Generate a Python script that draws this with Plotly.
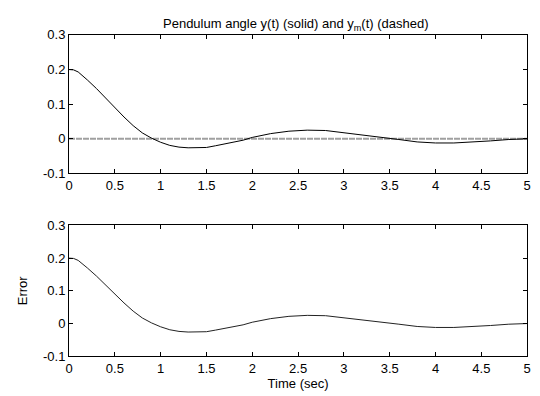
import plotly.graph_objects as go

t = [0, 0.05, 0.1, 0.15, 0.2, 0.3, 0.4, 0.5, 0.6, 0.7, 0.8, 0.9, 1.0, 1.1, 1.2, 1.3,
     1.4, 1.5, 1.6, 1.7, 1.8, 1.9, 2.0, 2.2, 2.4, 2.6, 2.8, 3.0, 3.2, 3.4, 3.6, 3.8,
     4.0, 4.2, 4.4, 4.6, 4.8, 5.0]
y = [0.2, 0.199, 0.193, 0.182, 0.170, 0.145, 0.117, 0.089, 0.063, 0.038, 0.017, 0.002,
     -0.01, -0.019, -0.024, -0.026, -0.026, -0.025, -0.02, -0.015, -0.01, -0.004, 0.004,
     0.015, 0.022, 0.025, 0.024, 0.018, 0.012, 0.006, -0.002, -0.009, -0.012, -0.012,
     -0.01, -0.006, -0.002, 0.0]
ym = [0.0] * len(t)
err = [a - b for a, b in zip(y, ym)]

x_ticks = [0, 0.5, 1, 1.5, 2, 2.5, 3, 3.5, 4, 4.5, 5]
x_tick_text = ["0", "0.5", "1", "1.5", "2", "2.5", "3", "3.5", "4", "4.5", "5"]
y_ticks = [-0.1, 0, 0.1, 0.2, 0.3]
y_tick_text = ["-0.1", "0", "0.1", "0.2", "0.3"]

W, H = 540, 396
FONT = "Liberation Sans, Arial, sans-serif"
FS = 13

fig = go.Figure()
fig.add_trace(go.Scatter(x=t, y=ym, mode="lines", line=dict(color="#a0a0a0", width=2, dash="6px,1px"),
                         xaxis="x", yaxis="y", showlegend=False))
fig.add_trace(go.Scatter(x=t, y=y, mode="lines", line=dict(color="black", width=1),
                         xaxis="x", yaxis="y", showlegend=False))
fig.add_trace(go.Scatter(x=t, y=err, mode="lines", line=dict(color="#222222", width=1),
                         xaxis="x2", yaxis="y2", showlegend=False))

xdom = [66 / W, 531 / W]
axis_common = dict(showline=True, linecolor="black", linewidth=1, mirror="ticks",
                   ticks="inside", ticklen=4, tickcolor="black", showgrid=False,
                   zeroline=False, tickfont=dict(family=FONT, size=FS, color="black"))

fig.update_layout(
    width=W, height=H, margin=dict(l=0, r=0, t=0, b=0),
    plot_bgcolor="white", paper_bgcolor="white",
    xaxis=dict(domain=xdom, range=[0, 5], tickvals=x_ticks, ticktext=x_tick_text,
               anchor="y", **axis_common),
    yaxis=dict(domain=[1 - 173 / H, 1 - 29 / H], range=[-0.1, 0.3], tickvals=y_ticks,
               ticktext=y_tick_text, anchor="x", **axis_common),
    xaxis2=dict(domain=xdom, range=[0, 5], tickvals=x_ticks, ticktext=x_tick_text,
                anchor="y2", title=dict(text="Time (sec)", font=dict(family=FONT, size=FS, color="black"),
                                        standoff=4), **axis_common),
    yaxis2=dict(domain=[1 - 363 / H, 1 - 227 / H], range=[-0.1, 0.3], tickvals=y_ticks,
                ticktext=y_tick_text, anchor="x2",
                title=dict(text="Error", font=dict(family=FONT, size=FS, color="black"), standoff=12),
                **axis_common),
    annotations=[dict(text="Pendulum angle y(t) (solid) and y<sub>m</sub>(t) (dashed)",
                      x=296.5 / W, y=1 - 18 / H, xref="paper", yref="paper",
                      showarrow=False, font=dict(family=FONT, size=FS, color="black"),
                      xanchor="center", yanchor="middle")],
)

fig.write_html("out.html")
